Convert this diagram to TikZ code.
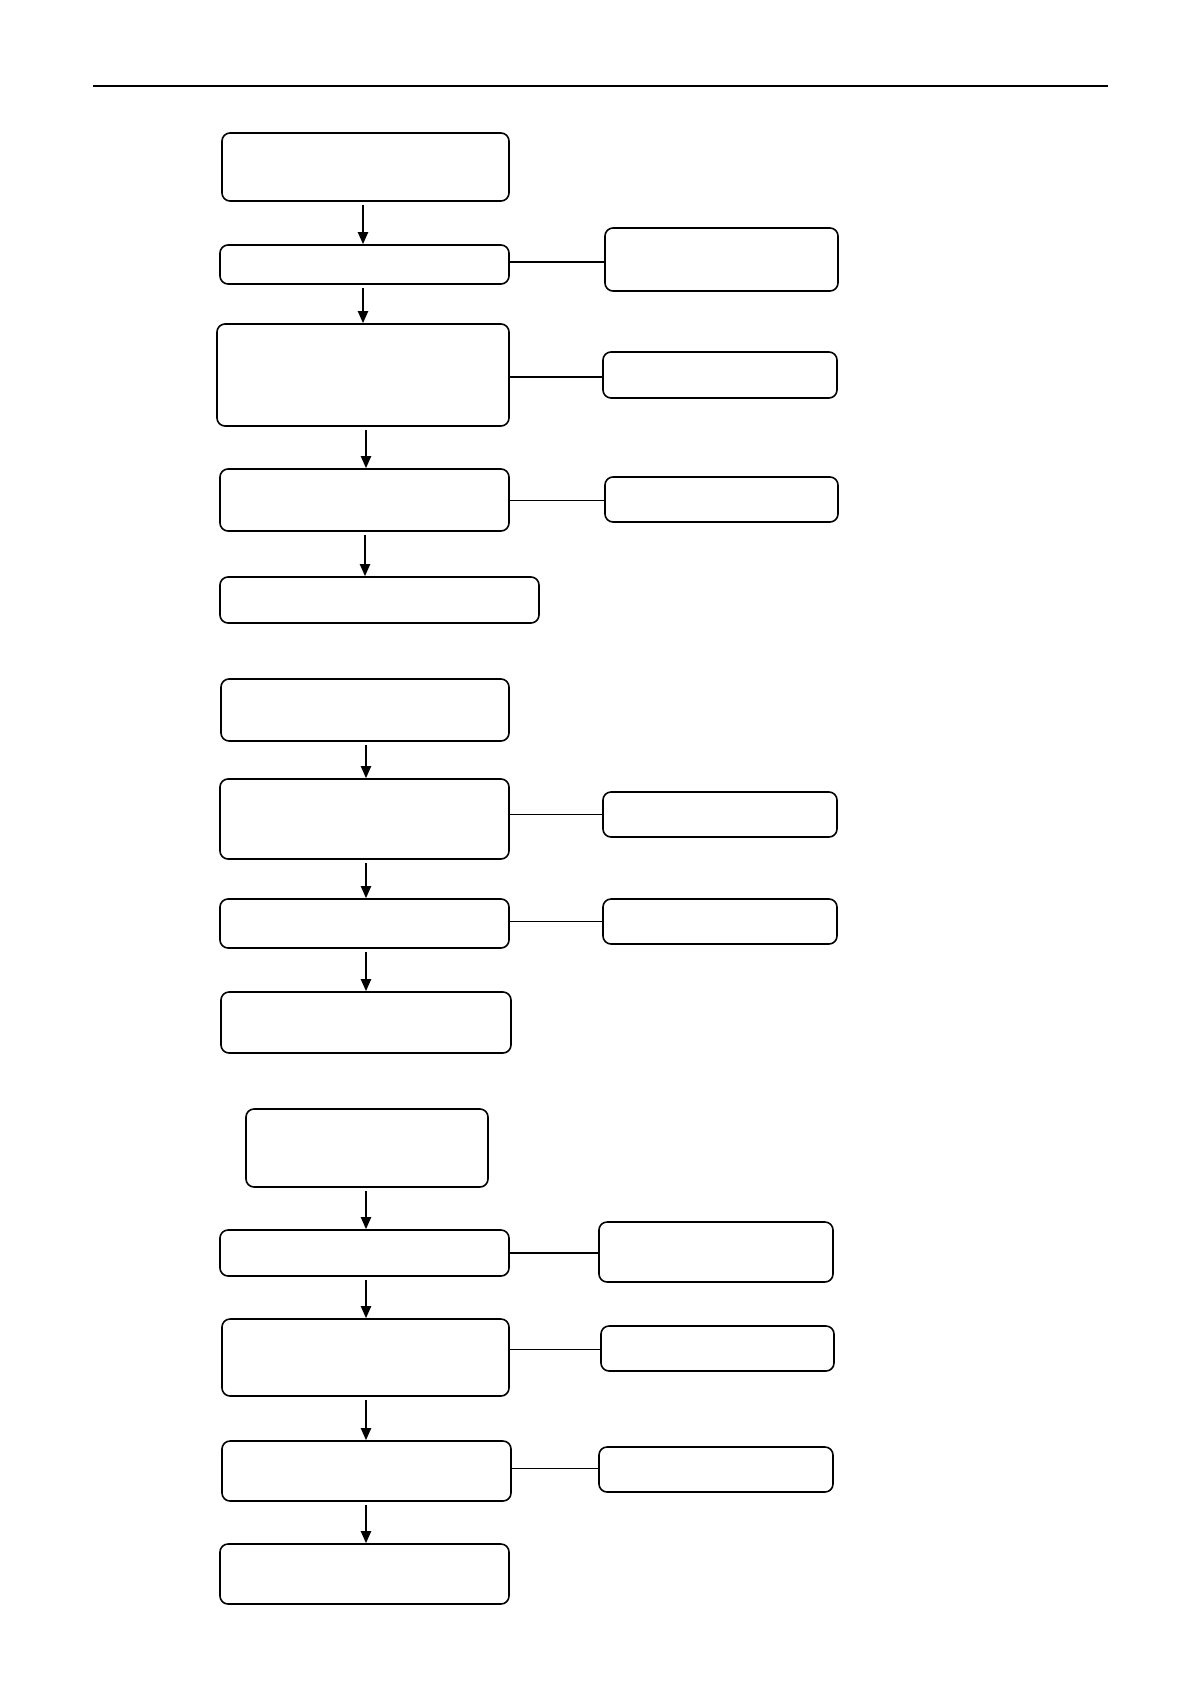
\documentclass[tikz,border=0pt]{standalone}
\usetikzlibrary{arrows.meta}
\begin{document}
\begin{tikzpicture}[x=1pt,y=-1pt,
  box/.style={draw, line width=1.6pt, rounded corners=8pt, inner sep=0pt, fill=white},
  flow/.style={-{Triangle[length=12pt,width=10pt]}, line width=2pt, shorten <=3pt},
  thick link/.style={line width=2.2pt},
  thin link/.style={line width=0.8pt}]
\fill[white] (0,0) rectangle (1191,1684);
\useasboundingbox (0,0) rectangle (1191,1684);
\coordinate (rl) at (93,86);
\coordinate (rr) at (1108,86);
\draw[line width=1.4pt] (rl) -- (rr);
% section 1
\node[box, minimum width=287pt, minimum height=68pt] (A) at (365.5,167) {};
\node[box, minimum width=289pt, minimum height=39pt] (B) at (364.5,264.5) {};
\node[box, minimum width=233pt, minimum height=63pt] (Bs) at (721.5,259.5) {};
\node[box, minimum width=292pt, minimum height=102pt] (C) at (363,375) {};
\node[box, minimum width=234pt, minimum height=46pt] (Cs) at (720,375) {};
\node[box, minimum width=289pt, minimum height=62pt] (D) at (364.5,500) {};
\node[box, minimum width=233pt, minimum height=45pt] (Ds) at (721.5,499.5) {};
\node[box, minimum width=319pt, minimum height=46pt] (E) at (379.5,600) {};
\draw[flow] (A.south -| 363,0) -- (B.north -| 363,0);
\draw[flow] (B.south -| 363,0) -- (C.north -| 363,0);
\draw[flow] (C.south -| 366,0) -- (D.north -| 366,0);
\draw[flow] (D.south -| 365,0) -- (E.north -| 365,0);
\draw[thick link] (B.east |- 0,262) -- (Bs.west |- 0,262);
\draw[thick link] (C.east |- 0,377) -- (Cs.west |- 0,377);
\draw[thin link] (D.east |- 0,500) -- (Ds.west |- 0,500);
% section 2
\node[box, minimum width=288pt, minimum height=62pt] (F) at (365,710) {};
\node[box, minimum width=289pt, minimum height=80pt] (G) at (364.5,819) {};
\node[box, minimum width=234pt, minimum height=45pt] (Gs) at (720,814.5) {};
\node[box, minimum width=289pt, minimum height=49pt] (H) at (364.5,923.5) {};
\node[box, minimum width=234pt, minimum height=45pt] (Hs) at (720,921.5) {};
\node[box, minimum width=290pt, minimum height=61pt] (I) at (366,1022.5) {};
\draw[flow] (F.south -| 366,0) -- (G.north -| 366,0);
\draw[flow] (G.south -| 366,0) -- (H.north -| 366,0);
\draw[flow] (H.south -| 366,0) -- (I.north -| 366,0);
\draw[thin link] (G.east |- 0,814) -- (Gs.west |- 0,814);
\draw[thin link] (H.east |- 0,921) -- (Hs.west |- 0,921);
% section 3
\node[box, minimum width=242pt, minimum height=78pt] (J) at (367,1148) {};
\node[box, minimum width=289pt, minimum height=46pt] (K) at (364.5,1253) {};
\node[box, minimum width=234pt, minimum height=60pt] (Ks) at (716,1252) {};
\node[box, minimum width=287pt, minimum height=77pt] (L) at (365.5,1357.5) {};
\node[box, minimum width=233pt, minimum height=45pt] (Ls) at (717.5,1348.5) {};
\node[box, minimum width=289pt, minimum height=60pt] (M) at (366.5,1471) {};
\node[box, minimum width=234pt, minimum height=45pt] (Ms) at (716,1469.5) {};
\node[box, minimum width=289pt, minimum height=60pt] (N) at (364.5,1574) {};
\draw[flow] (J.south -| 366,0) -- (K.north -| 366,0);
\draw[flow] (K.south -| 366,0) -- (L.north -| 366,0);
\draw[flow] (L.south -| 366,0) -- (M.north -| 366,0);
\draw[flow] (M.south -| 366,0) -- (N.north -| 366,0);
\draw[thick link] (K.east |- 0,1253) -- (Ks.west |- 0,1253);
\draw[thin link] (L.east |- 0,1349) -- (Ls.west |- 0,1349);
\draw[thin link] (M.east |- 0,1468) -- (Ms.west |- 0,1468);
\end{tikzpicture}
\end{document}
